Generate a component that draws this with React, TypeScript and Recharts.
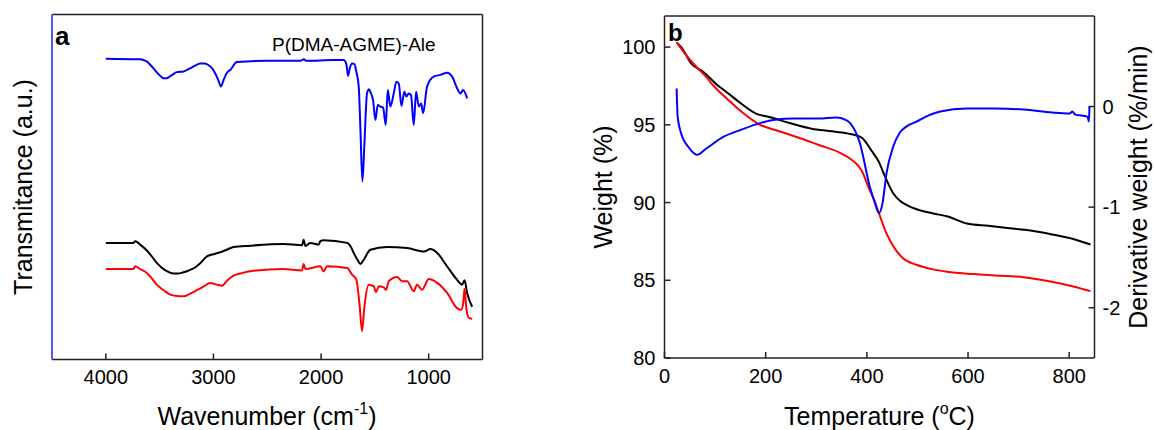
import React from 'react';
import { LineChart, Line, XAxis, YAxis } from 'recharts';

const FONT = '"Liberation Sans", Arial, Helvetica, sans-serif';

// ---------- Panel a: FTIR (wavenumber in cm-1, transmittance in arbitrary units) ----------
const ftirTicks = [4000, 3000, 2000, 1000];

const blueWavenumber = [4000, 3681, 3650, 3619, 3590, 3557, 3520, 3479, 3463, 3440, 3417, 3380, 3340, 3278, 3216, 3170, 3123, 3080, 3045, 3010, 2983, 2955, 2930, 2906, 2875, 2844, 2782, 2503, 2193, 2160, 2140, 1883, 1790, 1765, 1749, 1734, 1712, 1690, 1672, 1650, 1635, 1616, 1597, 1573, 1554, 1536, 1517, 1495, 1473, 1449, 1424, 1399, 1380, 1356, 1325, 1300, 1278, 1253, 1226, 1207, 1185, 1164, 1139, 1117, 1092, 1070, 1052, 1015, 953, 891, 829, 782, 736, 705, 680, 643];
const blueTransmittance = [87.2, 87.0, 86.8, 86.4, 85.5, 84.4, 83.0, 81.8, 81.5, 81.5, 81.8, 82.6, 83.3, 83.5, 84.4, 85.2, 85.8, 85.8, 85.3, 84.3, 82.9, 81.0, 79.1, 81.0, 83.1, 83.9, 86.2, 86.6, 86.6, 87.0, 86.6, 86.8, 86.8, 85.6, 82.2, 84.3, 85.8, 85.6, 83.4, 79.1, 67.5, 51.6, 62.7, 77.1, 78.3, 77.1, 75.2, 69.4, 73.8, 73.3, 73.1, 68.0, 78.1, 73.3, 77.1, 80.5, 80.0, 73.5, 77.6, 76.2, 77.1, 76.6, 68.0, 77.6, 73.3, 74.2, 71.4, 79.1, 82.0, 82.5, 83.1, 82.0, 78.6, 77.1, 78.1, 75.7];

const blackWavenumber = [4000, 3743, 3727, 3681, 3619, 3580, 3526, 3480, 3433, 3371, 3330, 3278, 3230, 3185, 3120, 3061, 3000, 2937, 2870, 2813, 2658, 2348, 2177, 2162, 2146, 2100, 2022, 2007, 1976, 1759, 1720, 1697, 1660, 1635, 1604, 1542, 1387, 1201, 1045, 983, 921, 829, 736, 689, 667, 643, 596];
const blackTransmittance = [33.8, 33.8, 34.3, 33.3, 31.6, 30.2, 28.0, 26.6, 25.6, 24.9, 24.9, 25.3, 25.8, 26.4, 28.0, 29.9, 30.5, 31.1, 31.9, 32.6, 33.0, 33.5, 33.1, 34.7, 32.9, 33.8, 33.3, 34.3, 34.6, 33.8, 32.5, 30.9, 28.8, 27.7, 28.9, 31.8, 32.6, 32.3, 31.3, 32.0, 30.9, 27.0, 23.1, 21.7, 23.0, 19.3, 15.3];

const redWavenumber = [4000, 3743, 3727, 3681, 3619, 3570, 3526, 3460, 3402, 3340, 3278, 3220, 3154, 3090, 3030, 2968, 2921, 2870, 2813, 2740, 2658, 2348, 2177, 2162, 2146, 2007, 1976, 1945, 1759, 1712, 1672, 1641, 1619, 1597, 1557, 1511, 1489, 1464, 1418, 1396, 1371, 1294, 1247, 1201, 1139, 1108, 1061, 999, 921, 829, 736, 698, 679, 667, 649, 627, 596];
const redTransmittance = [26.2, 26.2, 27.0, 26.2, 25.1, 23.4, 21.7, 20.0, 18.8, 18.4, 18.3, 19.0, 20.1, 21.2, 22.2, 21.7, 21.4, 23.0, 24.3, 25.0, 25.6, 26.2, 25.8, 27.7, 26.2, 27.0, 25.6, 27.0, 26.5, 24.6, 23.1, 15.4, 8.2, 15.4, 21.7, 21.2, 19.5, 21.2, 20.9, 20.2, 22.7, 23.9, 22.7, 22.7, 19.8, 21.7, 20.2, 23.3, 22.2, 19.3, 14.9, 14.4, 16.4, 20.5, 14.5, 12.1, 11.8];

// ---------- Panel b: TGA / DTG ----------
const tempTicks = [0, 200, 400, 600, 800];
const weightTicks = [80, 85, 90, 95, 100];
const derivTicks = [-2, -1, 0];

const blackTemp = [24, 33, 54, 77, 103, 123, 150, 182, 207, 249, 291, 326, 361, 389, 410, 424, 433, 452, 466, 478, 500, 531, 560, 598, 640, 682, 724, 766, 808, 842];
const blackWeight = [100.3, 100.0, 98.9, 98.4, 97.6, 97.1, 96.4, 95.7, 95.5, 95.1, 94.75, 94.6, 94.45, 94.2, 93.3, 92.6, 91.9, 90.6, 90.1, 89.85, 89.55, 89.3, 89.1, 88.65, 88.5, 88.35, 88.2, 87.95, 87.65, 87.3];

const redTemp = [24, 40, 61, 82, 100, 123, 150, 189, 221, 263, 305, 347, 368, 382, 392, 403, 414, 424, 439, 452, 472, 498, 531, 570, 610, 654, 710, 766, 808, 842];
const redWeight = [100.3, 99.6, 98.8, 98.1, 97.4, 96.7, 95.9, 95.0, 94.65, 94.2, 93.7, 93.2, 92.8, 92.4, 91.9, 91.0, 90.2, 89.3, 88.0, 87.2, 86.4, 86.0, 85.7, 85.5, 85.4, 85.3, 85.2, 84.9, 84.6, 84.3];

const blueTemp = [24, 26, 33, 47, 57, 64, 82, 117, 152, 189, 221, 255, 305, 340, 357, 367, 386, 406, 416, 424, 431, 439, 452, 465, 478, 498, 521, 545, 597, 654, 710, 766, 801, 806, 812, 836, 839, 840];
const blueDeriv = [0.18, -0.10, -0.27, -0.40, -0.46, -0.48, -0.42, -0.30, -0.23, -0.165, -0.13, -0.12, -0.12, -0.11, -0.13, -0.165, -0.36, -0.80, -0.96, -1.06, -0.96, -0.66, -0.40, -0.26, -0.20, -0.15, -0.09, -0.05, -0.02, -0.02, -0.03, -0.06, -0.07, -0.05, -0.08, -0.10, -0.15, 0.0];

const toPoints = (xs: number[], ys: number[]) => xs.map((x, i) => ({ x, y: ys[i] }));

const blueFtir = toPoints(blueWavenumber, blueTransmittance);
const blackFtir = toPoints(blackWavenumber, blackTransmittance);
const redFtir = toPoints(redWavenumber, redTransmittance);
const blackTga = toPoints(blackTemp, blackWeight);
const redTga = toPoints(redTemp, redWeight);
const blueDtg = toPoints(blueTemp, blueDeriv);

const tickStyle = { fontSize: 20, fill: '#000', fontFamily: FONT };
const axisDark = { stroke: '#222', strokeWidth: 1.5 };

export default function App() {
  return (
    <div style={{ position: 'absolute', left: 0, top: 0, width: 1155, height: 430, background: '#fff', fontFamily: FONT, overflow: 'hidden' }}>
      {/* Panel a */}
      <div style={{ position: 'absolute', left: 0, top: 0 }}>
        <LineChart width={500} height={430} margin={{ top: 0, right: 0, bottom: 0, left: 0 }}>
          <XAxis xAxisId="bottom" dataKey="x" type="number" domain={[500, 4500]} reversed ticks={ftirTicks} interval={0}
            height={70.5} tickSize={-6} tickMargin={16} tick={tickStyle} axisLine={axisDark} tickLine={axisDark} allowDataOverflow />
          <XAxis xAxisId="top" orientation="top" dataKey="x" type="number" domain={[500, 4500]} reversed height={14.5}
            tick={false} tickLine={false} axisLine={axisDark} />
          <YAxis yAxisId="left" type="number" domain={[0, 100]} width={52} tick={false} tickLine={false}
            axisLine={{ stroke: '#5555ff', strokeWidth: 2 }} allowDataOverflow />
          <YAxis yAxisId="right" orientation="right" type="number" domain={[0, 100]} width={17.5} tick={false} tickLine={false}
            axisLine={axisDark} />
          <Line xAxisId="bottom" yAxisId="left" data={blueFtir} dataKey="y" type="monotone" stroke="#0000ff" strokeWidth={2} dot={false} isAnimationActive={false} />
          <Line xAxisId="bottom" yAxisId="left" data={blackFtir} dataKey="y" type="monotone" stroke="#000000" strokeWidth={2} dot={false} isAnimationActive={false} />
          <Line xAxisId="bottom" yAxisId="left" data={redFtir} dataKey="y" type="monotone" stroke="#ff0000" strokeWidth={2} dot={false} isAnimationActive={false} />
        </LineChart>
      </div>

      {/* Panel b */}
      <div style={{ position: 'absolute', left: 600, top: 0 }}>
        <LineChart width={555} height={430} margin={{ top: 0, right: 0, bottom: 0, left: 0 }}>
          <XAxis xAxisId="bottom" dataKey="x" type="number" domain={[0, 850]} ticks={tempTicks} interval={0}
            height={72} tickSize={-6} tickMargin={17} tick={tickStyle} axisLine={axisDark} tickLine={axisDark} allowDataOverflow />
          <XAxis xAxisId="top" orientation="top" dataKey="x" type="number" domain={[0, 850]} height={16}
            tick={false} tickLine={false} axisLine={axisDark} />
          <YAxis yAxisId="w" type="number" domain={[80, 102]} ticks={weightTicks} interval={0} width={64.5}
            tickSize={-6} tickMargin={15} tick={tickStyle} axisLine={axisDark} tickLine={axisDark} allowDataOverflow />
          <YAxis yAxisId="d" orientation="right" type="number" domain={[-2.5, 0.9]} ticks={derivTicks} interval={0} width={60.5}
            tickSize={-6} tickMargin={14} tick={tickStyle} axisLine={axisDark} tickLine={axisDark} allowDataOverflow />
          <Line xAxisId="bottom" yAxisId="w" data={blackTga} dataKey="y" type="monotone" stroke="#000000" strokeWidth={2} dot={false} isAnimationActive={false} />
          <Line xAxisId="bottom" yAxisId="w" data={redTga} dataKey="y" type="monotone" stroke="#ff0000" strokeWidth={2} dot={false} isAnimationActive={false} />
          <Line xAxisId="bottom" yAxisId="d" data={blueDtg} dataKey="y" type="monotone" stroke="#0000ff" strokeWidth={2} dot={false} isAnimationActive={false} />
        </LineChart>
      </div>

      {/* Text annotations and axis titles */}
      <svg width={1155} height={430} style={{ position: 'absolute', left: 0, top: 0, pointerEvents: 'none' }}
        fontFamily={FONT} fill="#000">
        <text x={55} y={45} fontSize={26} fontWeight="bold">a</text>
        <text x={272} y={51} fontSize={19}>P(DMA-AGME)-Ale</text>
        <text x={267} y={425} fontSize={25} textAnchor="middle">
          Wavenumber (cm<tspan fontSize={16} dy={-11}>-1</tspan><tspan dy={11}>)</tspan>
        </text>
        <text x={32} y={187} fontSize={25} textAnchor="middle" transform="rotate(-90 32 187)">Transmitance (a.u.)</text>

        <text x={668} y={41} fontSize={24} fontWeight="bold">b</text>
        <text x={879.5} y={425} fontSize={25} textAnchor="middle">
          Temperature (<tspan fontSize={16} dy={-11}>o</tspan><tspan dy={11}>C)</tspan>
        </text>
        <text x={612} y={187} fontSize={25} textAnchor="middle" transform="rotate(-90 612 187)">Weight (%)</text>
        <text x={1147} y={187} fontSize={25} textAnchor="middle" transform="rotate(-90 1147 187)">Derivative weight (%/min)</text>
      </svg>
    </div>
  );
}
